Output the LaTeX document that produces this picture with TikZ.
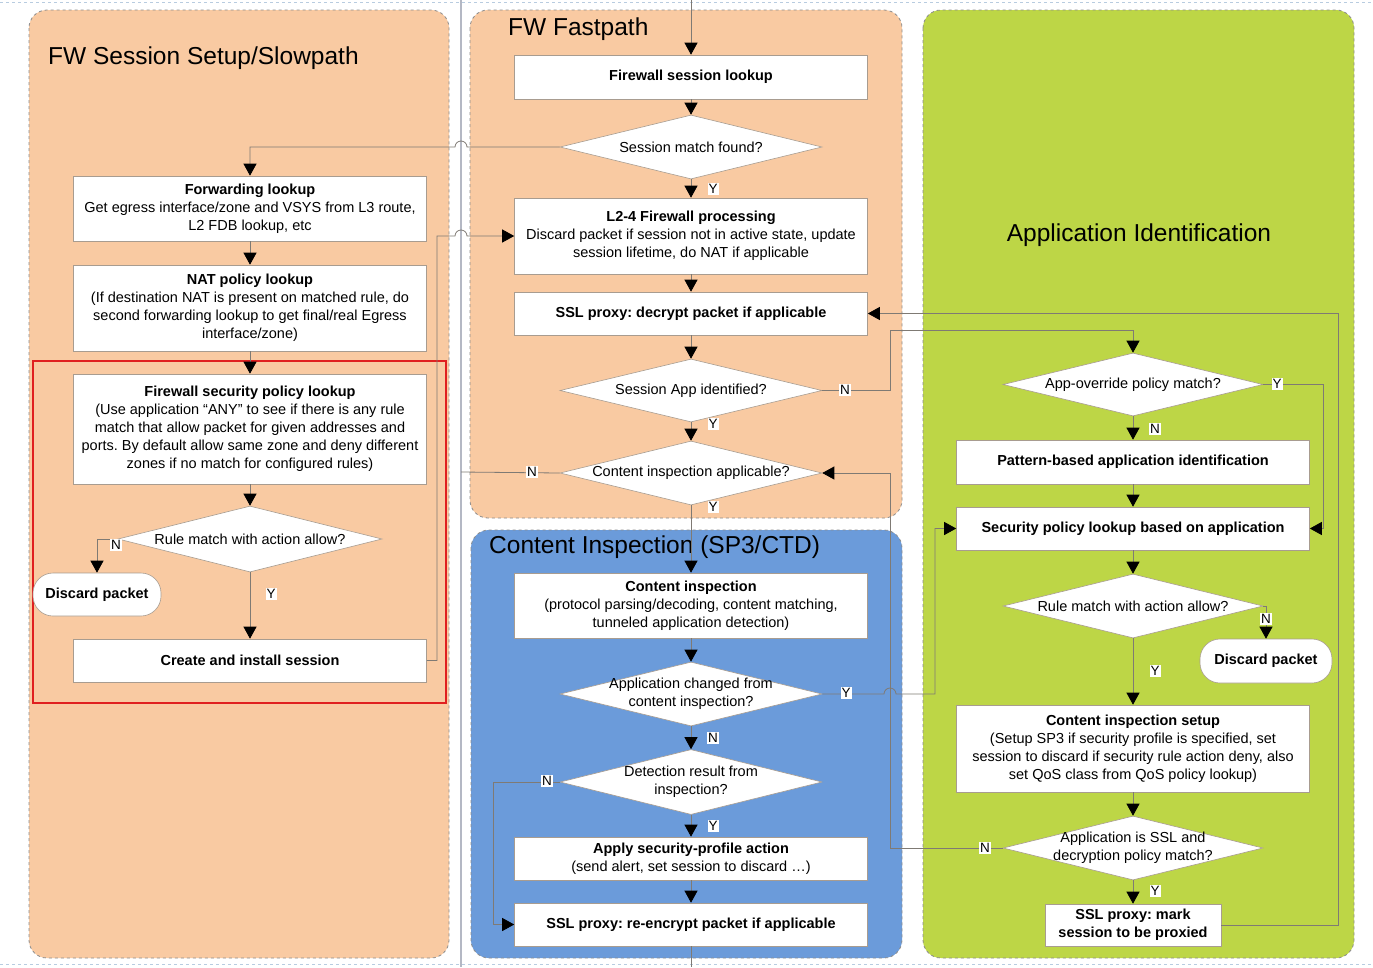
\documentclass[tikz,border=0pt]{standalone}
\usepackage{fontspec}
\setmainfont{Liberation Sans}
\usetikzlibrary{arrows.meta,shapes.geometric}
\frenchspacing
\definecolor{peach}{HTML}{F9CAA2}
\definecolor{bluez}{HTML}{6B9BDA}
\definecolor{greenz}{HTML}{BDD646}
\definecolor{zb}{HTML}{8C8C8C}
\definecolor{bordc}{HTML}{A89C90}
\definecolor{lc}{HTML}{7F7A74}
\definecolor{sepc}{HTML}{B4B8C4}
\definecolor{topc}{HTML}{B8CCE0}
\definecolor{redc}{HTML}{E02020}
\begin{document}
\begin{tikzpicture}[x=1pt,y=-1pt,
  txt/.style={font=\fontsize{14.5}{18}\selectfont},
  box/.style={txt, draw=bordc, fill=white, line width=0.6pt, minimum width=353pt, align=center, inner sep=2pt},
  dia/.style={diamond, draw=bordc, fill=white, line width=0.6pt, inner sep=0pt},
  dtext/.style={txt, align=center, inner sep=0pt},
  pill/.style={draw=bordc, fill=white, line width=0.6pt, rounded corners=20pt, font=\bfseries\fontsize{14.5}{18}\selectfont},
  yn/.style={fill=white, inner sep=1pt, font=\fontsize{13.5}{13.5}\selectfont},
  conn/.style={draw=lc, line width=0.8pt},
  arr/.style={conn, -{Triangle[length=12pt,width=13pt,color=black]}},
  zone/.style={draw=zb, dashed, rounded corners=18pt, line width=0.8pt},
  ttl/.style={font=\fontsize{24.5}{28}\selectfont, inner sep=0pt}
]
\useasboundingbox (0,0) rectangle (1373,967);
\fill[white] (0,0) rectangle (1373,967);

% outer frame lines
\draw[topc, dashed, line width=0.8pt] (0,2) -- (1373,2);
\draw[topc, dashed, line width=0.8pt] (0,964) -- (1373,964);
\draw[sepc, line width=1.5pt] (461,0) -- (461,967);

% zones
\draw[zone, fill=peach] (29,10) rectangle (449,958);
\draw[zone, fill=peach] (470,10) rectangle (902,518);
\draw[zone, fill=bluez] (471,530) rectangle (902,958);
\draw[zone, fill=greenz] (923,10) rectangle (1354,958);

\node[ttl, anchor=west] (t1) at (48,58) {FW Session Setup/Slowpath};
\node[ttl, anchor=west] (t2) at (508,29) {FW Fastpath};
\node[ttl] (t3) at (1139,235) {Application Identification};
\node[ttl, anchor=west] (t4) at (489,547) {Content Inspection (SP3/CTD)};

\draw[redc, line width=1.5pt] (33,361) rectangle (446,703);

% left column
\node[box, minimum height=65pt] (fwd) at (250,208.5) {\textbf{Forwarding lookup}\\Get egress interface/zone and VSYS from L3 route,\\L2 FDB lookup, etc};
\node[box, minimum height=86pt] (nat) at (250,308) {\textbf{NAT policy lookup}\\(If destination NAT is present on matched rule, do\\second forwarding lookup to get final/real Egress\\interface/zone)};
\node[box, minimum height=110pt] (fsp) at (250,429) {\textbf{Firewall security policy lookup}\\(Use application “ANY” to see if there is any rule\\match that allow packet for given addresses and\\ports. By default allow same zone and deny different\\zones if no match for configured rules)};
\node[dia, minimum width=264pt, minimum height=66pt, label={[dtext]center:Rule match with action allow?}] (rm1) at (250,539) {};
\node[pill, minimum width=128pt, minimum height=43pt] (dp1) at (97,594.5) {Discard packet};
\node[box, minimum height=43pt] (cis) at (250,660.5) {\textbf{Create and install session}};

% middle column
\node[box, minimum height=44pt] (fsl) at (691,77) {\textbf{Firewall session lookup}};
\node[dia, minimum width=262pt, minimum height=64pt, label={[dtext]center:Session match found?}] (smf) at (691,147) {};
\node[box, minimum height=76pt] (l24) at (691,236) {\textbf{L2-4 Firewall processing}\\Discard packet if session not in active state, update\\session lifetime, do NAT if applicable};
\node[box, minimum height=43pt] (ssld) at (691,313.5) {\textbf{SSL proxy: decrypt packet if applicable}};
\node[dia, minimum width=262pt, minimum height=63pt, label={[dtext]center:Session App identified?}] (sai) at (691,390.5) {};
\node[dia, minimum width=262pt, minimum height=64pt, label={[dtext]center:Content inspection applicable?}] (cia) at (691,473) {};
\node[box, minimum height=65pt] (ci) at (691,605.5) {\textbf{Content inspection}\\(protocol parsing/decoding, content matching,\\tunneled application detection)};
\node[dia, minimum width=262pt, minimum height=64pt, label={[dtext]center:{Application changed from\\content inspection?}}] (acd) at (691,694) {};
\node[dia, minimum width=262pt, minimum height=65pt, label={[dtext]center:{Detection result from\\inspection?}}] (dr) at (691,782) {};
\node[box, minimum height=43pt] (apa) at (691,858.5) {\textbf{Apply security-profile action}\\(send alert, set session to discard \dots)};
\node[box, minimum height=43pt] (sre) at (691,924.5) {\textbf{SSL proxy: re-encrypt packet if applicable}};

% right column
\node[dia, minimum width=260pt, minimum height=63pt, label={[dtext]center:App-override policy match?}] (aop) at (1133,384.5) {};
\node[box, minimum height=44pt] (pat) at (1133,462) {\textbf{Pattern-based application identification}};
\node[box, minimum height=43pt] (spl) at (1133,528.5) {\textbf{Security policy lookup based on application}};
\node[dia, minimum width=260pt, minimum height=64pt, label={[dtext]center:Rule match with action allow?}] (rm2) at (1133,606) {};
\node[pill, minimum width=132pt, minimum height=44pt] (dp2) at (1266,661) {Discard packet};
\node[box, minimum height=87pt] (cisu) at (1133,748.5) {\textbf{Content inspection setup}\\(Setup SP3 if security profile is specified, set\\session to discard if security rule action deny, also\\set QoS class from QoS policy lookup)};
\node[dia, minimum width=260pt, minimum height=64pt, label={[dtext]center:{Application is SSL and\\decryption policy match?}}] (ssl2) at (1133,848) {};
\node[box, minimum width=176pt, minimum height=42pt] (mark) at (1133,925) {\textbf{SSL proxy: mark}\\\textbf{session to be proxied}};

% free ends
\coordinate (topin) at (691,0);
\coordinate (botout) at (691,967);
\coordinate (sepN) at (461,472);

% connectors: left column
\draw[arr] (smf.west) -- (467,147) arc[start angle=0, end angle=-180, radius=6] -- (250,147) -- (fwd.north);
\draw[arr] (fwd.south) -- (nat.north);
\draw[arr] (nat.south) -- (fsp.north);
\draw[arr] (fsp.south) -- (rm1.north);
\draw[arr] (rm1.west) -| (dp1.north);
\draw[arr] (rm1.south) -- (cis.north);
\draw[arr] (cis.east) -- (437,660.5) -- (437,236) -- (455,236) arc[start angle=180, end angle=360, radius=6] -- (l24.west);

% middle column
\draw[arr] (topin) -- (fsl.north);
\draw[arr] (fsl.south) -- (smf.north);
\draw[arr] (smf.south) -- (l24.north);
\draw[arr] (l24.south) -- (ssld.north);
\draw[arr] (ssld.south) -- (sai.north);
\draw[arr] (sai.south) -- (cia.north);
\draw[arr] (sai.east) -- (890,390.5) -- (890,330) -- (1133,330) -- (aop.north);
\draw[conn] (cia.west) -- (sepN);
\draw[arr] (cia.south) -- (ci.north);
\draw[arr] (ci.south) -- (acd.north);
\draw[arr] (acd.south) -- (dr.north);
\draw[arr] (acd.east) -- (884,694) arc[start angle=180, end angle=360, radius=6] -- (935,694) -- (935,528.5) -- (spl.west);
\draw[arr] (dr.south) -- (apa.north);
\draw[arr] (dr.west) -- (493,782) -- (493,924.5) -- (sre.west);
\draw[arr] (apa.south) -- (sre.north);
\draw[conn] (sre.south) -- (botout);

% right column
\draw[arr] (aop.south) -- (pat.north);
\draw[arr] (aop.east) -- (1323,384.5) -- (1323,528.5) -- (spl.east);
\draw[arr] (pat.south) -- (spl.north);
\draw[arr] (spl.south) -- (rm2.north);
\draw[arr] (rm2.east) -| (dp2.north);
\draw[arr] (rm2.south) -- (cisu.north);
\draw[arr] (cisu.south) -- (ssl2.north);
\draw[arr] (ssl2.south) -- (mark.north);
\draw[arr] (ssl2.west) -- (890,848) -- (890,473) -- (cia.east);
\draw[arr] (mark.east) -- (1338,925) -- (1338,313.5) -- (ssld.east);

% Y/N labels
\node[yn] (l1) at (713,189) {Y};
\node[yn] (l2) at (713,424) {Y};
\node[yn] (l3) at (845,390) {N};
\node[yn] (l4) at (532,472) {N};
\node[yn] (l5) at (713,507) {Y};
\node[yn] (l6) at (846,693) {Y};
\node[yn] (l7) at (713,738) {N};
\node[yn] (l8) at (547,781) {N};
\node[yn] (l9) at (713,826) {Y};
\node[yn] (l10) at (116,545) {N};
\node[yn] (l11) at (271,594) {Y};
\node[yn] (l12) at (1277,384) {Y};
\node[yn] (l13) at (1155,429) {N};
\node[yn] (l14) at (1266,619) {N};
\node[yn] (l15) at (1155,671) {Y};
\node[yn] (l16) at (985,848) {N};
\node[yn] (l17) at (1155,891) {Y};
\end{tikzpicture}
\end{document}
